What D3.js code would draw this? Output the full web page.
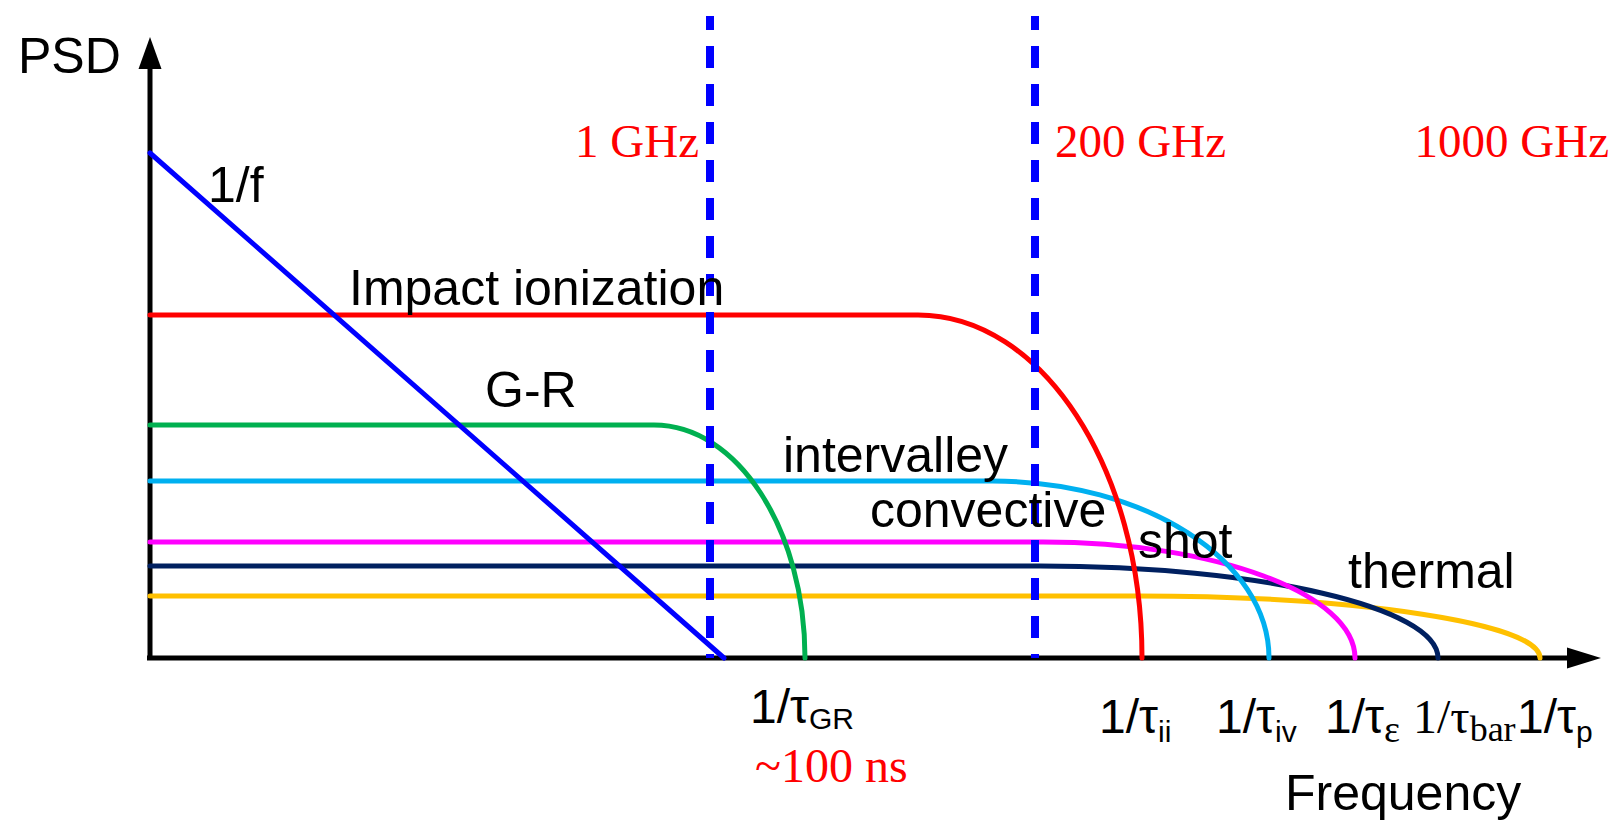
<!DOCTYPE html>
<html>
<head>
<meta charset="utf-8">
<script src="https://cdn.jsdelivr.net/npm/d3@7"></script>
<style>
  body { margin: 0; background: #fff; }
  svg { display: block; }
</style>
</head>
<body>
<svg id="chart"></svg>
<script>
(() => {

  // noise sources: flat level, knee where roll-off starts, cutoff where it hits zero
  const curveNames   = ['impact', 'gr', 'intervalley', 'convective', 'shot', 'thermal'];
  const curveLevels  = [343, 233, 177, 116, 92, 62];
  const curveKnees   = [768, 504, 842, 893, 890, 988];
  const curveCutoffs = [992, 655, 1119, 1205, 1288, 1390];

  // 1/f line, start and end
  const flickerPoints = [[0, 505], [574, 0]];

  // vertical dashed frequency markers
  const markerFreqs  = [560, 885];
  const markerLabels = ['1 GHz', '200 GHz', '1000 GHz'];

  // labels under the axis
  const tauSubs = ['GR', 'ii', 'iv', 'ε', 'bar', 'p'];

  const width  = 1617;
  const height = 820;

  const svg = d3.select('#chart')
    .attr('width', width)
    .attr('height', height);

  const x = d3.scaleLinear().domain([0, 1450]).range([150, 1600]);
  const y = d3.scaleLinear().domain([0, 620]).range([658, 38]);

  const colors = {
    impact: '#ff0000',
    gr: '#00b050',
    intervalley: '#00b0f0',
    convective: '#ff00ff',
    shot: '#002060',
    thermal: '#ffc000'
  };

  const sans  = "'Liberation Sans', Arial, sans-serif";
  const serif = "'Liberation Serif', 'Times New Roman', serif";

  // axes
  const axes = svg.append('g');
  axes.append('line')
    .attr('x1', x(0) - 3).attr('x2', x(1420))
    .attr('y1', y(0)).attr('y2', y(0))
    .attr('stroke', '#000').attr('stroke-width', 5);
  axes.append('path')
    .attr('d', `M${x(1417)},${y(0) - 10.5}L${x(1451)},${y(0)}L${x(1417)},${y(0) + 10.5}Z`)
    .attr('fill', '#000');
  axes.append('line')
    .attr('x1', x(0)).attr('x2', x(0))
    .attr('y1', y(0) + 2).attr('y2', y(592))
    .attr('stroke', '#000').attr('stroke-width', 5);
  axes.append('path')
    .attr('d', `M${x(0) - 11.5},${y(589)}L${x(0)},${y(621)}L${x(0) + 11.5},${y(589)}Z`)
    .attr('fill', '#000');

  // flat spectrum rolling off as a quarter ellipse down to the cutoff
  const k = 0.5523;
  function rollOff(i) {
    const p = d3.path();
    const lvl = y(curveLevels[i]);
    const kx = x(curveKnees[i]);
    const cx = x(curveCutoffs[i]);
    const base = y(0);
    p.moveTo(x(0), lvl);
    p.lineTo(kx, lvl);
    p.bezierCurveTo(kx + k * (cx - kx), lvl, cx, base - k * (base - lvl), cx, base);
    return p.toString();
  }

  const drawOrder = [5, 4, 3, 2, 1, 0];
  svg.append('g')
    .selectAll('path')
    .data(drawOrder)
    .enter()
    .append('path')
    .attr('d', (i) => rollOff(i))
    .attr('fill', 'none')
    .attr('stroke', (i) => colors[curveNames[i]])
    .attr('stroke-width', 5)
    .attr('stroke-linecap', 'round');

  svg.append('path')
    .attr('d', d3.line().x((d) => x(d[0])).y((d) => y(d[1]))(flickerPoints))
    .attr('fill', 'none')
    .attr('stroke', '#0000ff')
    .attr('stroke-width', 5)
    .attr('stroke-linecap', 'round');

  svg.append('g')
    .selectAll('line')
    .data(markerFreqs)
    .enter()
    .append('line')
    .attr('x1', (d) => x(d)).attr('x2', (d) => x(d))
    .attr('y1', y(642)).attr('y2', y(0))
    .attr('stroke', '#0000ff')
    .attr('stroke-width', 8)
    .attr('stroke-dasharray', '22,16')
    .attr('stroke-dashoffset', 8);

  // red frequency labels
  const markerLabelPos = [[549, 501], [905, 501], [1459, 501]];
  const markerAnchor = ['end', 'start', 'end'];
  svg.append('g')
    .selectAll('text')
    .data(markerLabels)
    .enter()
    .append('text')
    .attr('x', (d, i) => x(markerLabelPos[i][0]))
    .attr('y', (d, i) => y(markerLabelPos[i][1]))
    .attr('text-anchor', (d, i) => markerAnchor[i])
    .attr('font-family', serif)
    .attr('font-size', 47)
    .attr('fill', '#ff0000')
    .text((d) => d);

  // black labels
  const labels = [
    { t: 'PSD', x: 18, y: 73 },
    { t: '1/f', x: 208, y: 202 },
    { t: 'Impact ionization', x: 349, y: 305 },
    { t: 'G-R', x: 485, y: 407 },
    { t: 'intervalley', x: 783, y: 472 },
    { t: 'convective', x: 870, y: 527 },
    { t: 'shot', x: 1138, y: 558 },
    { t: 'thermal', x: 1348, y: 588 },
    { t: 'Frequency', x: 1285, y: 810 }
  ];
  svg.append('g')
    .selectAll('text')
    .data(labels)
    .enter()
    .append('text')
    .attr('x', (d) => d.x)
    .attr('y', (d) => d.y)
    .attr('font-family', sans)
    .attr('font-size', 50)
    .attr('fill', '#000')
    .text((d) => d.t);

  // 1/tau labels under the axis
  const tauX = [600, 949, 1066, 1175, 1263, 1367];
  const tauBase = [723, 733, 733, 733, 733, 733];
  const tauFont = [sans, sans, sans, sans, serif, sans];
  const subFont = [sans, sans, sans, serif, serif, sans];
  const subSize = [30, 30, 30, 38, 36, 30];
  const subDy = [6, 9, 9, 9, 8, 9];

  const tau = svg.append('g')
    .selectAll('text')
    .data(tauSubs)
    .enter()
    .append('text')
    .attr('x', (d, i) => x(tauX[i]))
    .attr('y', (d, i) => tauBase[i])
    .attr('font-size', 48)
    .attr('fill', '#000');
  tau.append('tspan')
    .attr('font-family', (d, i) => tauFont[i])
    .text('1/τ');
  tau.append('tspan')
    .attr('font-family', (d, i) => subFont[i])
    .attr('font-size', (d, i) => subSize[i])
    .attr('dy', (d, i) => subDy[i])
    .text((d) => d);

  svg.append('text')
    .attr('x', 755)
    .attr('y', 782)
    .attr('font-family', serif)
    .attr('font-size', 48)
    .attr('fill', '#ff0000')
    .text('~100 ns');

})();
</script>
</body>
</html>
